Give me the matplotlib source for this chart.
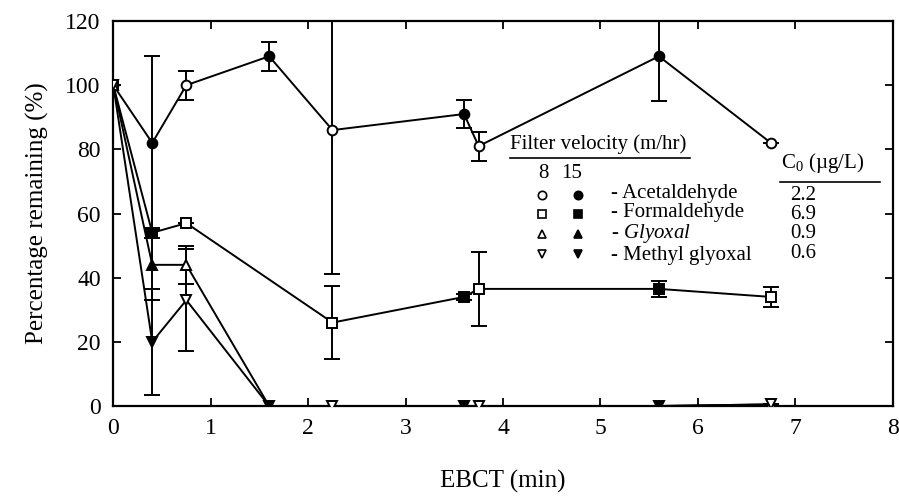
import numpy as np
import matplotlib
matplotlib.use("Agg")
import matplotlib.pyplot as plt

plt.rcParams['font.family'] = ['Liberation Serif', 'DejaVu Serif']
plt.rcParams['mathtext.fontset'] = 'custom'
plt.rcParams['mathtext.rm'] = 'Liberation Serif'
plt.rcParams['mathtext.it'] = 'Liberation Serif:italic'

# EBCT (min) for each filter velocity
x8 = [0, 0.75, 2.25, 3.75, 6.75]
x15 = [0.4, 1.6, 3.6, 5.6]

compounds = ["Acetaldehyde", "Formaldehyde", "$\\mathit{Glyoxal}$", "Methyl glyoxal"]
c0 = ["2.2", "6.9", "0.9", "0.6"]
markers = ["o", "s", "^", "v"]

# percentage remaining, 8 m/hr (open) and 15 m/hr (filled)
acet8 = [100, 100, 86, 81, 82]
acet8_err = [0, 4.5, 45, 4.5, 0]
acet15 = [82, 109, 91, 109]
acet15_err = [27, 4.5, 4.5, 14]

form8 = [100, 57, 26, 36.5, 34]
form8_err = [0, 0, 11.5, 11.5, 3]
form15 = [54, np.nan, 34, 36.5]
form15_err = [1.5, 0, 1, 2.5]

gly8 = [100, 44, 0, 0, 0.5]
gly8_err = [0, 6, 0, 0, 0]
gly15 = [44, 0, 0, 0]
gly15_err = [11, 0, 0, 0]

mgly8 = [100, 33, 0, 0, 0.5]
mgly8_err = [0, 16, 0, 0, 0]
mgly15 = [20, 0, 0, 0]
mgly15_err = [16.5, 0, 0, 0]

series = [
    (acet8, acet8_err, acet15, acet15_err),
    (form8, form8_err, form15, form15_err),
    (gly8, gly8_err, gly15, gly15_err),
    (mgly8, mgly8_err, mgly15, mgly15_err),
]

fig = plt.figure(figsize=(8.99, 5.0), dpi=100)
ax = fig.add_axes([0.126, 0.188, 0.867, 0.770])

for (y8, e8, y15, e15), m in zip(series, markers):
    xs = np.array(x8 + x15, dtype=float)
    ys = np.array(y8 + y15, dtype=float)
    order = np.argsort(xs)
    xs, ys = xs[order], ys[order]
    ok = ~np.isnan(ys)
    ax.plot(xs[ok], ys[ok], color="black", lw=1.4, zorder=2)

    ax.errorbar(x8, y8, yerr=e8, fmt="none", ecolor="black", elinewidth=1.4,
                capsize=6, capthick=1.4, zorder=3)
    ax.errorbar(x15, y15, yerr=e15, fmt="none", ecolor="black", elinewidth=1.4,
                capsize=6, capthick=1.4, zorder=3)
    ax.plot(x8, y8, m, ls="none", mfc="white", mec="black", mew=1.4, ms=7, zorder=4)
    ax.plot(x15, y15, m, ls="none", mfc="black", mec="black", mew=1.4, ms=7, zorder=4)

ax.set_xlim(0, 8)
ax.set_ylim(0, 120)
ax.set_xticks(range(0, 9))
ax.set_yticks(range(0, 121, 20))
ax.tick_params(direction="in", length=6, width=1.3, top=True, right=True,
               labelsize=17, pad=9)
for s in ax.spines.values():
    s.set_linewidth(1.6)

ax.set_xlabel("EBCT (min)", fontsize=18, labelpad=22)
ax.set_ylabel("Percentage remaining (%)", fontsize=18, labelpad=12)

# custom legend block
def fx(px):
    return (px - 113) / 780.0

def fy(py):
    return (406 - py) / 385.0

tr = ax.transAxes
fs = 15
ax.text(fx(510), fy(144), "Filter velocity (m/hr)", transform=tr, fontsize=fs,
        ha="left", va="center")
ax.plot([fx(510), fx(690)], [fy(158), fy(158)], color="black", lw=1.2,
        transform=tr, clip_on=False)
ax.text(fx(543), fy(173), "8", transform=tr, fontsize=fs, ha="center", va="center")
ax.text(fx(572), fy(173), "15", transform=tr, fontsize=fs, ha="center", va="center")

ax.text(fx(781), fy(163), "C$_0$ (µg/L)", transform=tr, fontsize=fs,
        ha="left", va="center")
ax.plot([fx(780), fx(880)], [fy(182), fy(182)], color="black", lw=1.2,
        transform=tr, clip_on=False)

rows = [195, 214, 234, 254]
for m, py in zip(markers, rows):
    ax.plot([fx(542)], [fy(py)], m, mfc="white", mec="black", mew=1.2, ms=6,
            transform=tr, clip_on=False)
    ax.plot([fx(578)], [fy(py)], m, mfc="black", mec="black", mew=1.2, ms=6,
            transform=tr, clip_on=False)

mid = fy(sum(rows) / len(rows))
ax.text(fx(611), mid, "\n".join("- " + n for n in compounds), transform=tr,
        fontsize=fs, ha="left", va="center", linespacing=1.02)
ax.text(fx(803), mid, "\n".join(c0), transform=tr, fontsize=fs,
        ha="center", va="center", linespacing=1.02)

fig.savefig("out.png", dpi=100)
